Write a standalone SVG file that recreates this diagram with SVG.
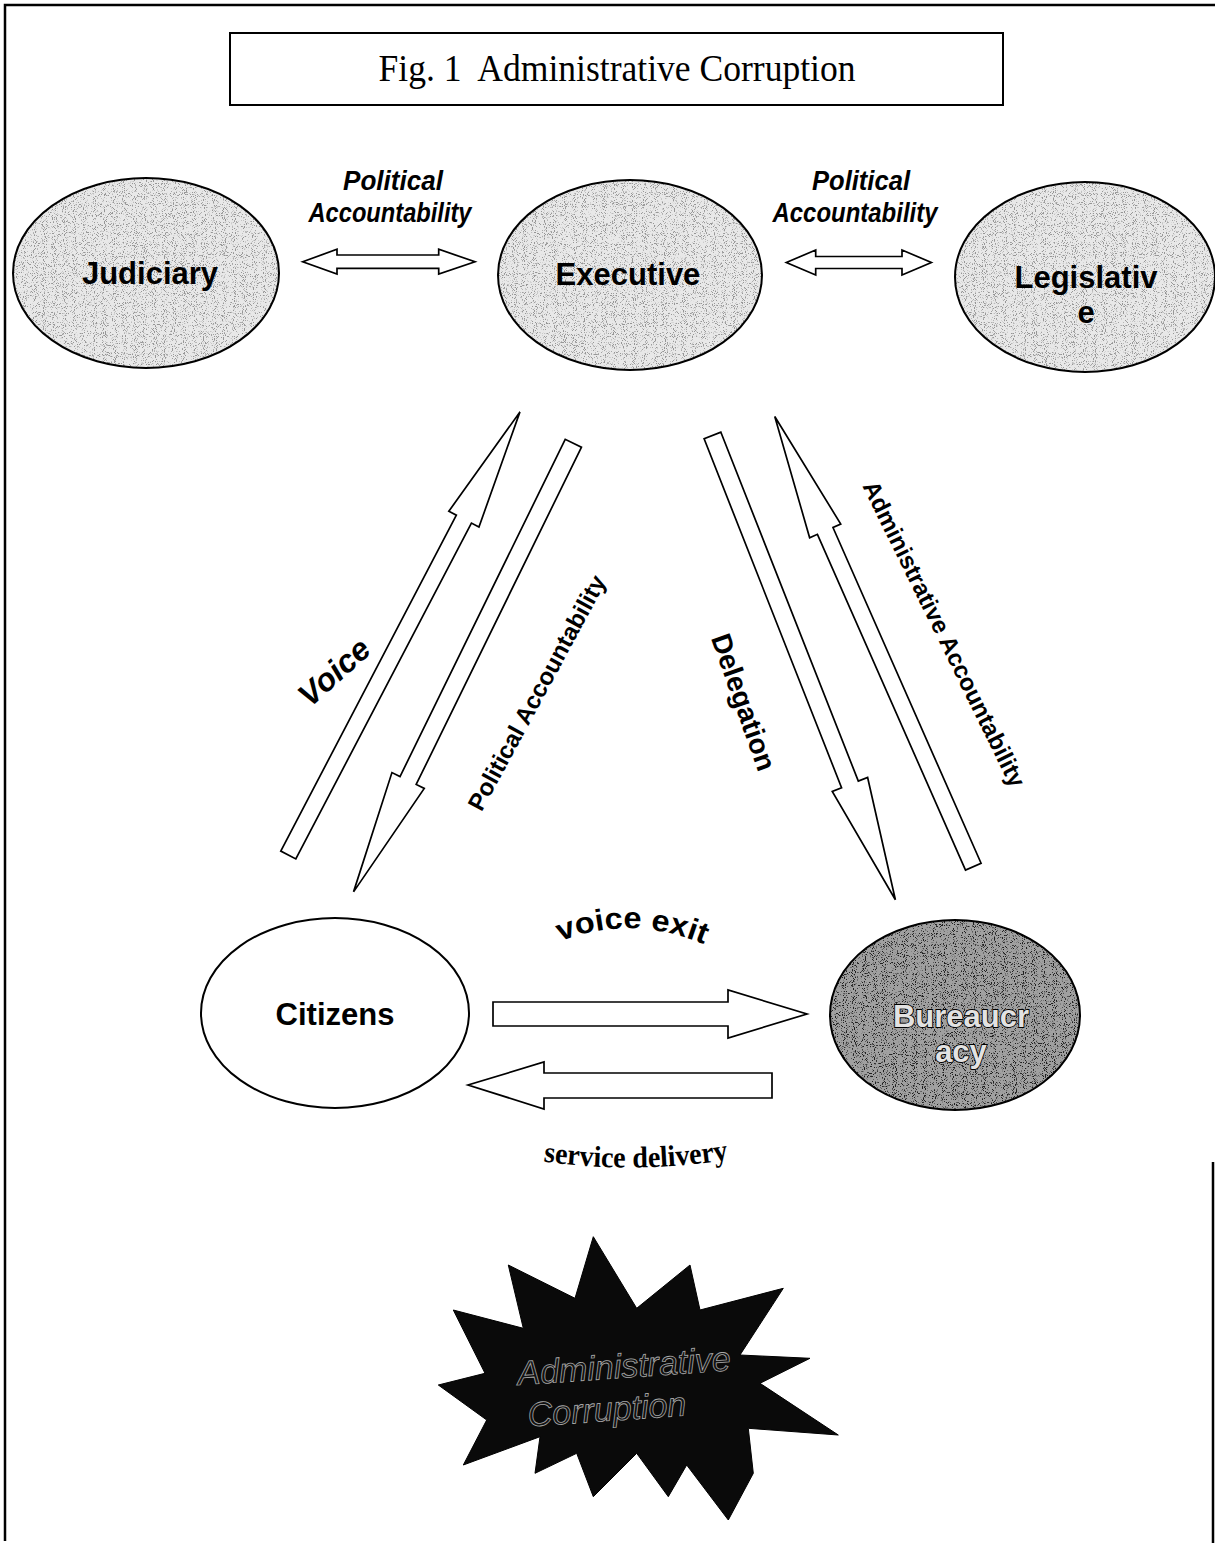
<svg xmlns="http://www.w3.org/2000/svg" width="1215" height="1543" viewBox="0 0 1215 1543">
<style>
.bg{fill:#fff}
.frame{fill:none;stroke:#000;stroke-width:2.5}
.node{stroke:#000;stroke-width:2}
.arrow{fill:#fff;stroke:#000;stroke-width:1.7;stroke-linejoin:miter}
.lbl{font-family:"Liberation Sans",Arial,sans-serif;font-weight:bold;fill:#000}
.nlbl{font-family:"Liberation Sans",Arial,sans-serif;font-weight:bold;font-size:31px;fill:#000;text-anchor:middle}
.ital{font-style:italic}
</style>
<defs>
<filter id="grain" x="0" y="0" width="1" height="1" color-interpolation-filters="sRGB">
<feTurbulence type="fractalNoise" baseFrequency="1.1" numOctaves="1" seed="4" result="t"/>
<feColorMatrix in="t" type="matrix" values="0 0 0 0 0  0 0 0 0 0  0 0 0 0 0  9 0 0 0 -5" result="d"/>
<feComposite in="d" in2="SourceAlpha" operator="in"/>
</filter>
</defs>
<rect class="bg" x="0" y="0" width="1215" height="1543"/>
<path class="frame" d="M5,1541 V5 H1215"/>
<path class="frame" d="M1213,1162 V1543"/>

<g id="title">
<rect x="230" y="33" width="773" height="72" fill="#fff" stroke="#000" stroke-width="2"/>
<text x="617" y="81" font-family="Liberation Serif,'Times New Roman',serif" font-size="37" text-anchor="middle" textLength="477" lengthAdjust="spacingAndGlyphs">Fig. 1&#160; Administrative Corruption</text>
</g>

<g id="judiciary">
<ellipse cx="146" cy="273" rx="133" ry="95" fill="#e8e8e8"/>
<ellipse cx="146" cy="273" rx="133" ry="95" fill="#000" filter="url(#grain)" opacity="0.35"/>
<ellipse class="node" cx="146" cy="273" rx="133" ry="95" fill="none"/>
<text class="nlbl" x="150" y="284">Judiciary</text>
</g>

<g id="executive">
<ellipse cx="630" cy="275" rx="132" ry="95" fill="#e8e8e8"/>
<ellipse cx="630" cy="275" rx="132" ry="95" fill="#000" filter="url(#grain)" opacity="0.35"/>
<ellipse class="node" cx="630" cy="275" rx="132" ry="95" fill="none"/>
<text class="nlbl" x="628" y="285">Executive</text>
</g>

<g id="legislative">
<ellipse cx="1085" cy="277" rx="130" ry="95" fill="#e8e8e8"/>
<ellipse cx="1085" cy="277" rx="130" ry="95" fill="#000" filter="url(#grain)" opacity="0.35"/>
<ellipse class="node" cx="1085" cy="277" rx="130" ry="95" fill="none"/>
<text class="nlbl" x="1086" y="288">Legislativ</text>
<text class="nlbl" x="1086" y="323">e</text>
</g>

<g id="citizens">
<ellipse class="node" cx="335" cy="1013" rx="134" ry="95" fill="#fff"/>
<text class="nlbl" x="335" y="1025">Citizens</text>
</g>

<g id="bureaucracy">
<ellipse cx="955" cy="1015" rx="125" ry="95" fill="#a0a0a0"/>
<ellipse cx="955" cy="1015" rx="125" ry="95" fill="#000" filter="url(#grain)" opacity="0.8"/>
<ellipse class="node" cx="955" cy="1015" rx="125" ry="95" fill="none"/>
<text class="nlbl" x="961" y="1027" stroke="#000" stroke-width="1.8" style="fill:#e2e2e2;paint-order:stroke">Bureaucr</text>
<text class="nlbl" x="961" y="1062" stroke="#000" stroke-width="1.8" style="fill:#e2e2e2;paint-order:stroke">acy</text>
</g>

<g id="corruption">
<polygon fill="#0a0a0a" stroke="#000" stroke-width="1" points="593.3,1236.7 636.7,1308.3 690,1265 700,1310 783.3,1288.3 740,1355 810,1358.3 760,1383.3 838.3,1435 748.3,1428.3 753.3,1473.3 728.3,1520 686.7,1465 668.3,1496.7 636.7,1453.3 593.3,1496.7 576.7,1453.3 535,1473.3 540,1436.7 463.3,1465 486.7,1420 438.3,1385 485,1373.3 453.3,1310 523.3,1328.3 508.3,1265 575,1298.3"/>
<g transform="rotate(-4 620 1395)" font-family="Liberation Sans,Arial,sans-serif" font-style="italic" font-size="34" text-anchor="middle" fill="#111" stroke="#a8a8a8" stroke-width="0.8">
<text x="626" y="1378">Administrative</text>
<text x="606" y="1420">Corruption</text>
</g>
</g>

<g id="connectors">
<polygon class="arrow" points="302.7,261.7 337,249.3 337,255 438.7,255 438.7,249.3 475,261.7 438.7,274 438.7,268.3 337,268.3 337,274"/>
<polygon class="arrow" points="786.3,262.5 815.7,250 815.7,256.5 902,256.5 902,250 931.4,262.5 902,275 902,268.5 815.7,268.5 815.7,275"/>
<polygon class="arrow" transform="translate(288.3,855) rotate(-62.4)" points="0,-8.5 379,-8.5 379,-17 500,0 379,17 379,8.5 0,8.5"/>
<polygon class="arrow" transform="translate(573.3,443.3) rotate(116.1)" points="0,-9 375.5,-9 375.5,-18 499.5,0 375.5,18 375.5,9 0,9"/>
<polygon class="arrow" transform="translate(712.5,435.5) rotate(68.5)" points="0,-9 375,-9 375,-19 499,0 375,19 375,9 0,9"/>
<polygon class="arrow" transform="translate(973.3,866.7) rotate(-113.8)" points="0,-8.5 367,-8.5 367,-17 492,0 367,17 367,8.5 0,8.5"/>
<polygon class="arrow" points="493,1002 728,1002 728,990 807,1014 728,1038 728,1026 493,1026"/>
<polygon class="arrow" points="772,1073 544,1073 544,1062 468,1085 544,1109 544,1098 772,1098"/>
</g>

<g id="labels">
<text class="lbl ital" x="393" y="190" font-size="27" text-anchor="middle" textLength="100" lengthAdjust="spacingAndGlyphs">Political</text>
<text class="lbl ital" x="390" y="222" font-size="27" text-anchor="middle" textLength="163" lengthAdjust="spacingAndGlyphs">Accountability</text>
<text class="lbl ital" x="861" y="190" font-size="27" text-anchor="middle" textLength="98" lengthAdjust="spacingAndGlyphs">Political</text>
<text class="lbl ital" x="855" y="222" font-size="27" text-anchor="middle" textLength="165" lengthAdjust="spacingAndGlyphs">Accountability</text>
<text class="lbl ital" transform="translate(334,672) rotate(-42)" x="0" y="11" font-size="32" text-anchor="middle">Voice</text>
<text class="lbl" transform="translate(537,693) rotate(-61.6)" x="0" y="8" font-size="24" text-anchor="middle">Political Accountability</text>
<text class="lbl" transform="translate(744,702) rotate(70.5)" x="0" y="10" font-size="28" text-anchor="middle">Delegation</text>
<text class="lbl" transform="translate(944,634) rotate(63.8)" x="0" y="8" font-size="24" text-anchor="middle">Administrative Accountability</text>
<path id="vearc" d="M556,943 Q630,912 708,946" fill="none"/>
<text class="lbl" font-size="30"><textPath href="#vearc" startOffset="50%" text-anchor="middle" textLength="148" lengthAdjust="spacingAndGlyphs">voice exit</textPath></text>
<path id="sdarc" d="M540,1161 Q636,1175 732,1159" fill="none"/>
<text font-family="Liberation Serif,'Times New Roman',serif" font-weight="bold" font-size="30"><textPath href="#sdarc" startOffset="50%" text-anchor="middle" textLength="186" lengthAdjust="spacingAndGlyphs">service delivery</textPath></text>
</g>
</svg>
